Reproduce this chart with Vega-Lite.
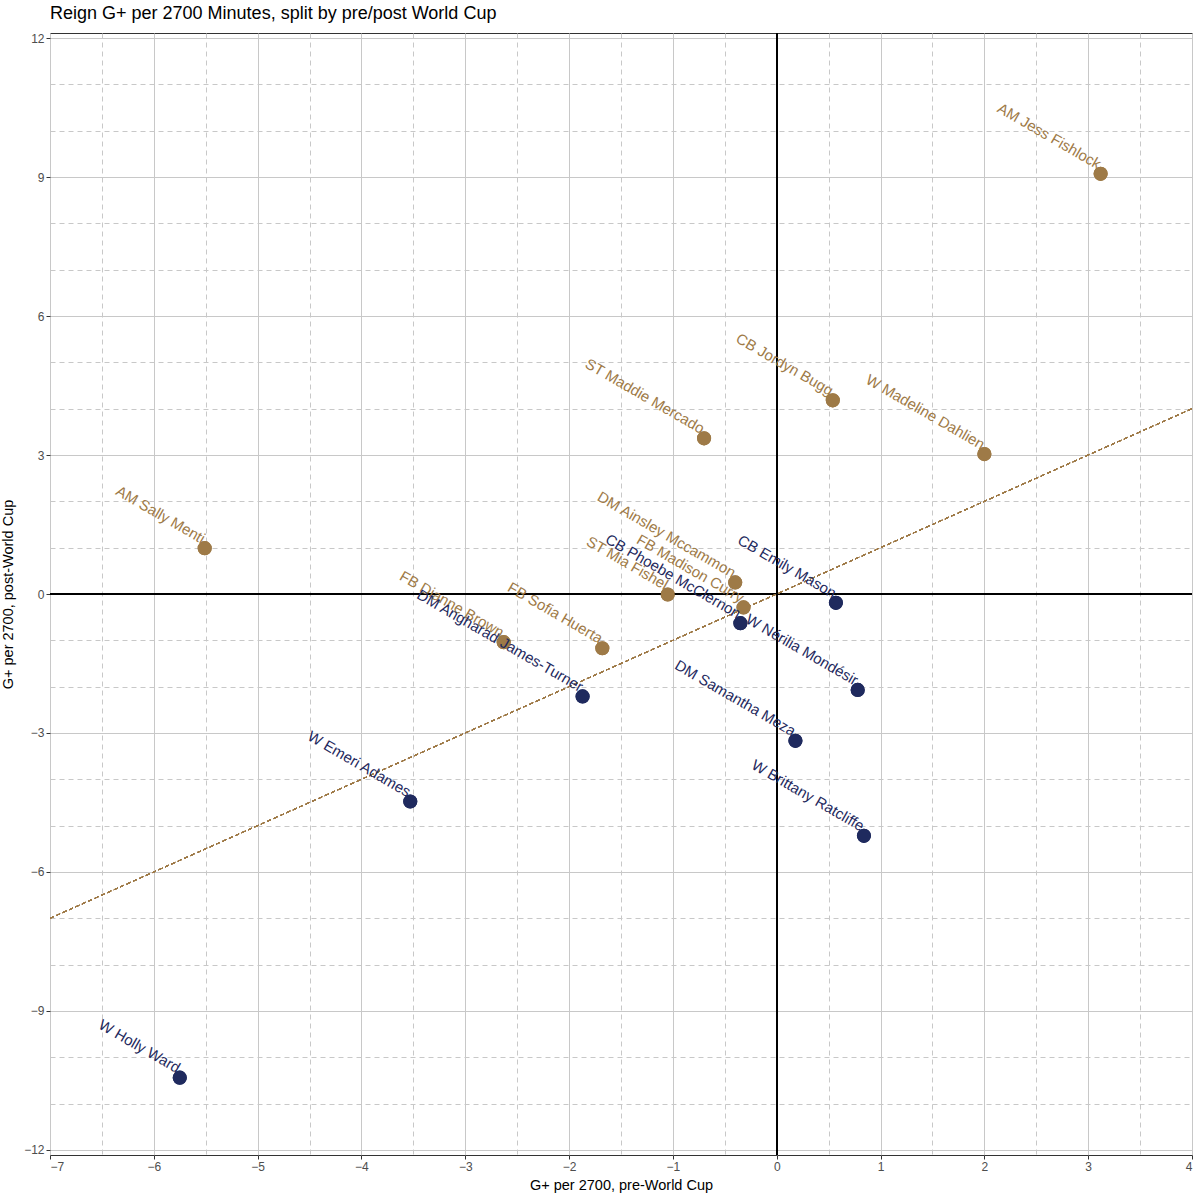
{
  "$schema": "https://vega.github.io/schema/vega-lite/v6.json",
  "autosize": "none",
  "width": 1142,
  "height": 1122,
  "padding": {"left": 50, "top": 33, "right": 8, "bottom": 45},
  "background": "white",
  "title": {
    "text": "Reign G+ per 2700 Minutes, split by pre/post World Cup",
    "anchor": "start",
    "frame": "group",
    "font": "Liberation Sans",
    "fontSize": 18,
    "fontWeight": "normal",
    "color": "black",
    "offset": 9
  },
  "config": {
    "view": {"stroke": "#333333", "strokeWidth": 1},
    "axis": {
      "domain": false,
      "labelFont": "Liberation Sans",
      "labelFontSize": 12,
      "labelColor": "#4d4d4d",
      "tickColor": "#333333",
      "tickSize": 4,
      "titleFont": "Liberation Sans",
      "titleFontSize": 14.5,
      "titleFontWeight": "normal",
      "titleColor": "black",
      "gridColor": "#c8c8c8",
      "gridWidth": 1,
      "labelOverlap": false
    }
  },
  "data": {
    "values": [
      {"player": "AM Jess Fishlock", "pre": 3.12, "post": 9.07, "trend": "up"},
      {"player": "CB Jordyn Bugg", "pre": 0.54, "post": 4.18, "trend": "up"},
      {"player": "W Madeline Dahlien", "pre": 2.0, "post": 3.02, "trend": "up"},
      {"player": "ST Maddie Mercado", "pre": -0.7, "post": 3.36, "trend": "up"},
      {"player": "AM Sally Menti", "pre": -5.51, "post": 0.99, "trend": "up"},
      {"player": "DM Ainsley Mccammon", "pre": -0.4, "post": 0.25, "trend": "up"},
      {"player": "FB Madison Curry", "pre": -0.32, "post": -0.29, "trend": "up"},
      {"player": "ST Mia Fishel", "pre": -1.05, "post": -0.01, "trend": "up"},
      {"player": "FB Sofia Huerta", "pre": -1.68, "post": -1.17, "trend": "up"},
      {"player": "FB Dianne Brown", "pre": -2.63, "post": -1.04, "trend": "up"},
      {"player": "CB Emily Mason", "pre": 0.57, "post": -0.19, "trend": "down"},
      {"player": "CB Phoebe McClernon", "pre": -0.35, "post": -0.63, "trend": "down"},
      {"player": "DM Angharad James-Turner", "pre": -1.87, "post": -2.21, "trend": "down"},
      {"player": "W Nérilia Mondésir", "pre": 0.78, "post": -2.07, "trend": "down"},
      {"player": "DM Samantha Meza", "pre": 0.18, "post": -3.17, "trend": "down"},
      {"player": "W Brittany Ratcliffe", "pre": 0.84, "post": -5.22, "trend": "down"},
      {"player": "W Emeri Adames", "pre": -3.53, "post": -4.48, "trend": "down"},
      {"player": "W Holly Ward", "pre": -5.75, "post": -10.44, "trend": "down"}
    ]
  },
  "layer": [
    {
      "mark": {"type": "point", "filled": true, "size": 200, "opacity": 1},
      "encoding": {
        "x": {
          "field": "pre",
          "type": "quantitative",
          "title": "G+ per 2700, pre-World Cup",
          "scale": {"domain": [-7, 4], "nice": false, "zero": false},
          "axis": {
            "values": [-7, -6.5, -6, -5.5, -5, -4.5, -4, -3.5, -3, -2.5, -2, -1.5, -1, -0.5, 0, 0.5, 1, 1.5, 2, 2.5, 3, 3.5, 4],
            "labelExpr": "datum.value % 1 === 0 ? format(datum.value, 'd') : ''",
            "tickOpacity": {"condition": {"test": "datum.value % 1 !== 0", "value": 0}, "value": 1},
            "gridDash": {"condition": {"test": "datum.value % 1 !== 0", "value": [5, 4]}, "value": []},
            "titlePadding": 6
          }
        },
        "y": {
          "field": "post",
          "type": "quantitative",
          "title": "G+ per 2700, post-World Cup",
          "scale": {"domain": [-12.11, 12.11], "nice": false, "zero": false},
          "axis": {
            "values": [-12, -11, -10, -9, -8, -7, -6, -5, -4, -3, -2, -1, 0, 1, 2, 3, 4, 5, 6, 7, 8, 9, 10, 11, 12],
            "labelExpr": "datum.value % 3 === 0 ? format(datum.value, 'd') : ''",
            "tickOpacity": {"condition": {"test": "datum.value % 3 !== 0", "value": 0}, "value": 1},
            "gridDash": {"condition": {"test": "datum.value % 3 !== 0", "value": [5, 4]}, "value": []},
            "titlePadding": 8
          }
        },
        "color": {
          "field": "trend",
          "type": "nominal",
          "scale": {"domain": ["up", "down"], "range": ["#9e7a47", "#1f2a5e"]},
          "legend": null
        }
      }
    },
    {
      "mark": {"type": "rule", "color": "black", "strokeWidth": 1},
      "encoding": {"x": {"datum": 0, "type": "quantitative"}}
    },
    {
      "mark": {"type": "rule", "color": "black", "strokeWidth": 1},
      "encoding": {"y": {"datum": 0, "type": "quantitative"}}
    },
    {
      "mark": {"type": "rule", "color": "#9e7a47", "strokeWidth": 0.8, "strokeDash": [4, 3]},
      "encoding": {
        "x": {"datum": -7, "type": "quantitative"},
        "y": {"datum": -7, "type": "quantitative"},
        "x2": {"datum": 4},
        "y2": {"datum": 4}
      }
    },
    {
      "mark": {"type": "point", "filled": true, "size": 200, "opacity": 1},
      "encoding": {
        "x": {"field": "pre", "type": "quantitative"},
        "y": {"field": "post", "type": "quantitative"},
        "color": {"field": "trend", "type": "nominal", "legend": null}
      }
    },
    {
      "mark": {"type": "text", "angle": 30, "align": "right", "baseline": "bottom", "dx": -5, "dy": 1, "font": "Liberation Sans", "fontSize": 15},
      "encoding": {
        "x": {"field": "pre", "type": "quantitative"},
        "y": {"field": "post", "type": "quantitative"},
        "text": {"field": "player", "type": "nominal"},
        "color": {"field": "trend", "type": "nominal", "legend": null}
      }
    }
  ]
}
